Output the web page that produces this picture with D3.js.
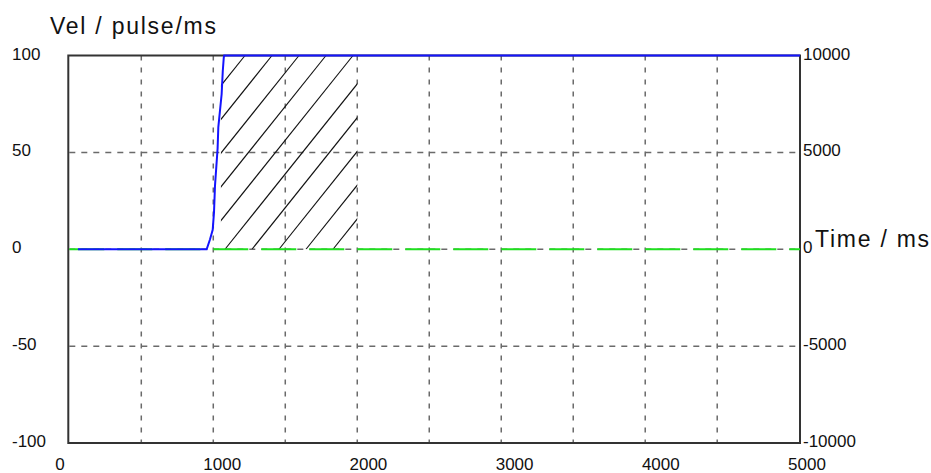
<!DOCTYPE html>
<html>
<head>
<meta charset="utf-8">
<script src="https://cdn.jsdelivr.net/npm/d3@7"></script>
<style>
  html, body { margin: 0; padding: 0; background: #fff; }
  svg { display: block; }
  text { font-family: "Liberation Sans", Arial, sans-serif; fill: #111; }
</style>
</head>
<body>
<svg id="chart" width="931" height="473"></svg>
<script>
// ---- data ----
const xTickLabels = [0, 1000, 2000, 3000, 4000, 5000];
const yLeftTicks = [100, 50, 0, -50, -100];
const yRightTicks = [10000, 5000, 0, -5000, -10000];
const gridTimes = [500, 1000, 1500, 2000, 2500, 3000, 3500, 4000, 4500];
const gridVels = [50, 0, -50];

// velocity trace (blue), pulse/ms
const velTime  = [60, 954, 977, 996, 1005, 1012, 1030, 1035, 1058, 1066, 1073, 1076, 5075];
const velValue = [0,  0,   5,   10,  19,   33,   52,   63,   80,   92,   99,   100,  100];

// position trace (green, right axis), pulse
const posTime  = [0, 5075];
const posValue = [0, 0];

// hatched region (time range, velocity range)
const hatchTime = [1053, 2000];
const hatchVel = [0, 100];

// ---- layout ----
const L = 69.3, R = 800, T = 55.5, B = 443;
const svg = d3.select("#chart");

const x = d3.scaleLinear().domain([0, 5075]).range([L, R]);
const xLab = d3.scaleLinear().domain([0, 5000]).range([69, 800]);
const y = d3.scaleLinear().domain([-100, 100]).range([B, T]);
const y2 = d3.scaleLinear().domain([-10000, 10000]).range([B, T]);

// grid
const grid = svg.append("g");
grid.selectAll("line.v").data(gridTimes).join("line")
  .attr("x1", d => x(d)).attr("x2", d => x(d))
  .attr("y1", T).attr("y2", B)
  .attr("stroke", "#6a6a6a").attr("stroke-width", 1.5)
  .attr("stroke-dasharray", "5,7");
grid.selectAll("line.h").data(gridVels).join("line")
  .attr("x1", L).attr("x2", R)
  .attr("y1", d => y(d)).attr("y2", d => y(d))
  .attr("stroke", "#6a6a6a").attr("stroke-width", 1.5)
  .attr("stroke-dasharray", "6,6");

// hatch
const defs = svg.append("defs");
defs.append("clipPath").attr("id", "hclip").append("rect")
  .attr("x", x(hatchTime[0])).attr("y", y(hatchVel[1]))
  .attr("width", x(hatchTime[1]) - x(hatchTime[0]))
  .attr("height", y(hatchVel[0]) - y(hatchVel[1]));
const spacing = 27, slope = 1.25;
const base = y(hatchVel[0]);
const hgt = y(hatchVel[0]) - y(hatchVel[1]);
const x0 = 225;
const starts = d3.range(-8, 7).map(k => x0 + k * spacing);
svg.append("g").attr("clip-path", "url(#hclip)")
  .selectAll("line").data(starts).join("line")
  .attr("x1", d => d).attr("y1", base)
  .attr("x2", d => d + hgt / slope).attr("y2", base - hgt)
  .attr("stroke", "#111").attr("stroke-width", 1.1);

// frame
svg.append("rect").attr("x", L - 1).attr("y", T).attr("width", R - L + 1).attr("height", B - T)
  .attr("fill", "none").attr("stroke", "#333").attr("stroke-width", 2);

// green position line
const posLine = d3.line().x((d, i) => x(posTime[i])).y((d, i) => y2(posValue[i]));
svg.append("path").attr("d", posLine(posTime))
  .attr("fill", "none").attr("stroke", "#1ee01e").attr("stroke-width", 2)
  .attr("stroke-dasharray", "35,13");

// blue velocity line
const velLine = d3.line().x((d, i) => x(velTime[i])).y((d, i) => y(velValue[i]));
svg.append("path").attr("d", velLine(velTime))
  .attr("fill", "none").attr("stroke", "#1414ff").attr("stroke-width", 2);

// left labels
svg.append("g").selectAll("text").data(yLeftTicks).join("text")
  .attr("x", 12).attr("y", d => y(d) - 1.5)
  .attr("dominant-baseline", "central")
  .attr("font-size", 17)
  .text(d => d);

// right labels
svg.append("g").selectAll("text").data(yRightTicks).join("text")
  .attr("x", 803).attr("y", d => y2(d) - 1.5)
  .attr("dominant-baseline", "central")
  .attr("font-size", 17)
  .text(d => d);

// bottom labels
svg.append("g").selectAll("text").data(xTickLabels).join("text")
  .attr("x", d => d === 0 ? 60 : xLab(d) + 7)
  .attr("y", 464)
  .attr("text-anchor", "middle")
  .attr("dominant-baseline", "central")
  .attr("font-size", 17)
  .text(d => d);

// axis titles
svg.append("text").attr("x", 50).attr("y", 34)
  .attr("font-size", 23).attr("letter-spacing", 1.75)
  .text("Vel / pulse/ms");
svg.append("text").attr("x", 815).attr("y", 247)
  .attr("font-size", 23).attr("letter-spacing", 1.75)
  .text("Time / ms");
</script>
</body>
</html>
